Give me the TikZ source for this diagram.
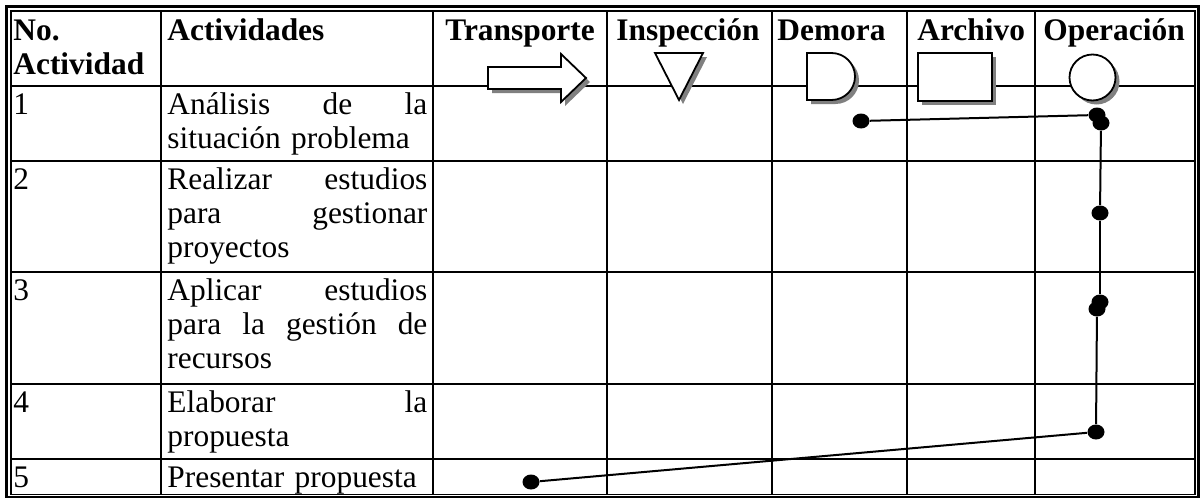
\documentclass[tikz,border=0pt]{standalone}
\usepackage{fontspec}
\setmainfont{Liberation Serif}
\usetikzlibrary{shapes.geometric}
\begin{document}
\begin{tikzpicture}[x=0.5pt,y=-0.5pt,
  txt/.style={anchor=base west, inner sep=0pt, font=\fontsize{15.7}{17}\selectfont},
  hdr/.style={anchor=base west, inner sep=0pt, font=\fontsize{15.7}{17}\selectfont\bfseries},
  para/.style={txt, text width=130pt, align=left},
  grid/.style={line width=1.2pt, black},
  outerb/.style={line width=1.5pt, black},
  innerb/.style={line width=0.75pt, black},
  sym/.style={draw=black, fill=white, line width=0.9pt, line join=miter},
  shade/.style={fill=black!50, draw=none},
  dot/.style={ellipse, fill=black, draw=none, minimum width=8.5pt, minimum height=7.5pt, inner sep=0pt},
  flow/.style={line width=1pt, black}
]
\useasboundingbox (0,0) rectangle (1200,498);
% borders
\draw[outerb] (6.5,6.5) rectangle (1198.5,497.5);
\draw[innerb] (11,11) rectangle (1195,494.5);
% grid
\foreach \yy in {86,161,272,384,459} \draw[grid] (11,\yy) -- (1195,\yy);
\foreach \xx in {161,433,607,772,907,1035} \draw[grid] (\xx,11) -- (\xx,494.5);
% symbol shadows
\begin{scope}[shift={(4,4)}]
  \fill[shade] (488,67) -- (561,67) -- (561,54) -- (586,78) -- (561,102) -- (561,89) -- (488,89) -- cycle;
  \fill[shade] (655,53) -- (703,53) -- (679,100) -- cycle;
  \fill[shade] (807,53) -- (831.5,53) arc[start angle=-90, end angle=90, radius=23.5] -- (807,100) -- cycle;
  \fill[shade] (918,53) rectangle (992,101);
  \fill[shade] (1092.5,77.5) circle[radius=23];
\end{scope}
% symbols
\draw[sym] (488,67) -- (561,67) -- (561,54) -- (586,78) -- (561,102) -- (561,89) -- (488,89) -- cycle;
\draw[sym] (655,53) -- (703,53) -- (679,100) -- cycle;
\draw[sym] (807,53) -- (831.5,53) arc[start angle=-90, end angle=90, radius=23.5] -- (807,100) -- cycle;
\draw[sym] (918,53) rectangle (992,101);
\draw[sym] (1092.5,77.5) circle[radius=23];
% header
\node[hdr, text width=74pt, align=left] (h1) at (13,40.5) {No.\\Actividad};
\node[hdr] (h2) at (167,40.5) {Actividades};
\node[hdr] (h3) at (445,40.5) {Transporte};
\node[hdr] (h4) at (616,40.5) {Inspección};
\node[hdr] (h5) at (777,40.5) {Demora};
\node[hdr] (h6) at (917,40.5) {Archivo};
\node[hdr] (h7) at (1043,40.5) {Operación};
% rows
\node[txt] (n1) at (13,114) {1};
\node[para] (a1) at (167,114) {Análisis\hfill de\hfill la\\situación problema};
\node[txt] (n2) at (13,189.5) {2};
\node[para] (a2) at (167,189.5) {Realizar\hfill estudios\\para\hfill gestionar\\proyectos};
\node[txt] (n3) at (13,300.5) {3};
\node[para] (a3) at (167,300.5) {Aplicar\hfill estudios\\para\hfill la\hfill gestión\hfill de\\recursos};
\node[txt] (n4) at (13,412.5) {4};
\node[para] (a4) at (167,412.5) {Elaborar\hfill la\\propuesta};
\node[txt] (n5) at (13,487) {5};
\node[para] (a5) at (167,487) {Presentar propuesta};
% flow dots
\node[dot] (A) at (861,121) {};
\node[dot] (B) at (1097,115) {};
\node[dot] (C) at (1101,123) {};
\node[dot] (D) at (1100,213) {};
\node[dot] (E) at (1100,302) {};
\node[dot] (F) at (1097,309) {};
\node[dot] (G) at (1096,432) {};
\node[dot] (H) at (531,482) {};
\draw[flow] (A) -- (B);
\draw[flow] (C) -- (D);
\draw[flow] (D) -- (E);
\draw[flow] (F) -- (G);
\draw[flow] (G) -- (H);
\end{tikzpicture}
\end{document}
